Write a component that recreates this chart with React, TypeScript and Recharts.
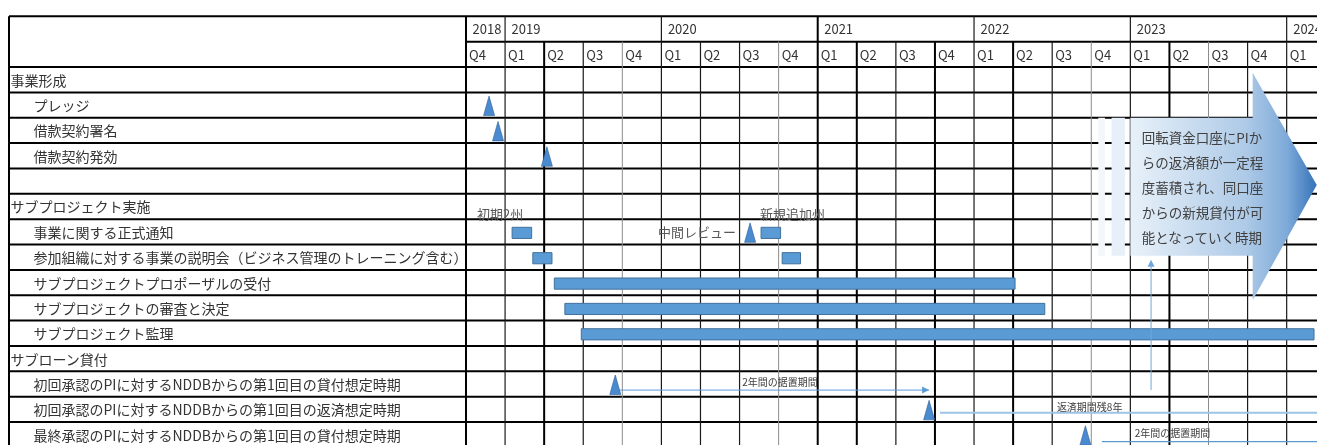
import React from 'react';
import { ComposedChart, XAxis, YAxis, ReferenceLine, ReferenceArea, Scatter } from 'recharts';

// x unit = one quarter, 0 = start of 2018 Q4. Negative x is the label column.
const YEARS = ['2018', '2019', '2020', '2021', '2022', '2023', '2024'];
const YEAR_START = [0, 1, 5, 9, 13, 17, 21];
const QUARTERS = [
  'Q4',
  'Q1', 'Q2', 'Q3', 'Q4',
  'Q1', 'Q2', 'Q3', 'Q4',
  'Q1', 'Q2', 'Q3', 'Q4',
  'Q1', 'Q2', 'Q3', 'Q4',
  'Q1', 'Q2', 'Q3', 'Q4',
  'Q1',
];

const T_PLEDGE = 'プレッジ';
const T_SIGN = '借款契約署名';
const T_EFFECT = '借款契約発効';
const T_IMPL = 'サブプロジェクト実施';
const T_NOTICE = '事業に関する正式通知';
const T_BRIEF = '参加組織に対する事業の説明会（ビジネス管理のトレーニング含む）';
const T_RECEIVE = 'サブプロジェクトプロポーザルの受付';
const T_REVIEW = 'サブプロジェクトの審査と決定';
const T_MONITOR = 'サブプロジェクト監理';
const T_LOAN1 = '初回承認のPIに対するNDDBからの第1回目の貸付想定時期';
const T_REPAY1 = '初回承認のPIに対するNDDBからの第1回目の返済想定時期';
const T_LOAN2 = '最終承認のPIに対するNDDBからの第1回目の貸付想定時期';

const TASKS = [
  { name: '事業形成', sub: false },
  { name: T_PLEDGE, sub: true },
  { name: T_SIGN, sub: true },
  { name: T_EFFECT, sub: true },
  { name: '', sub: false },
  { name: T_IMPL, sub: false },
  { name: T_NOTICE, sub: true },
  { name: T_BRIEF, sub: true },
  { name: T_RECEIVE, sub: true },
  { name: T_REVIEW, sub: true },
  { name: T_MONITOR, sub: true },
  { name: 'サブローン貸付', sub: false },
  { name: T_LOAN1, sub: true },
  { name: T_REPAY1, sub: true },
  { name: T_LOAN2, sub: true },
];

const BARS = [
  { task: T_NOTICE, start: 1.18, end: 1.68 },
  { task: T_NOTICE, start: 7.55, end: 8.05 },
  { task: T_BRIEF, start: 1.71, end: 2.2 },
  { task: T_BRIEF, start: 8.09, end: 8.56 },
  { task: T_RECEIVE, start: 2.26, end: 14.05 },
  { task: T_REVIEW, start: 2.53, end: 14.81 },
  { task: T_MONITOR, start: 2.95, end: 21.7 },
];

const MILESTONES = [
  { task: T_PLEDGE, at: 0.59 },
  { task: T_SIGN, at: 0.82 },
  { task: T_EFFECT, at: 2.07 },
  { task: T_NOTICE, at: 7.27 },
  { task: T_LOAN1, at: 3.82 },
  { task: T_REPAY1, at: 11.85 },
  { task: T_LOAN2, at: 15.85 },
];

const PERIODS = [
  { task: T_LOAN1, from: 3.92, to: 11.85, label: '2年間の据置期間', labelAt: 7.07 },
  { task: T_REPAY1, from: 12.13, to: 21.9, label: '返済期間残8年', labelAt: 15.12 },
  { task: T_LOAN2, from: 16.27, to: 21.9, label: '2年間の据置期間', labelAt: 17.11 },
];

const NOTES = [
  { task: T_IMPL, at: 0.28, text: '初期2州', anchor: 'start', dy: 0.76 },
  { task: T_IMPL, at: 7.52, text: '新規追加州', anchor: 'start', dy: 0.76 },
  { task: T_NOTICE, at: 6.91, text: '中間レビュー', anchor: 'end', dy: 0.5 },
];

const CALLOUT_TEXT = [
  '回転資金口座にPIか',
  'らの返済額が一定程',
  '度蓄積され、同口座',
  'からの新規貸付が可',
  '能となっていく時期',
];

// callout arrow in chart units (x: quarters, y: rows)
const CALLOUT = { x1: 17.0, neck: 20.13, x2: 21.77, y1: 2.23, y2: 11.2, bodyTop: 4.0, bodyBottom: 9.44, tipY: 6.65, textX: 17.29, textY: 4.75, lineStep: 0.985 };
const CALLOUT_STRIPS = [
  { x1: 16.18, x2: 16.35, fill: '#f3f7fb' },
  { x1: 16.52, x2: 16.86, fill: '#e7eff8' },
];
const UP_ARROW = { at: 17.53, from: 14.74, to: 9.6 };

const HEADER_ROWS = 2;
const CHART_W = 1309;
const CHART_H = 437;
const X_MIN = -11.694;
const X_MAX = 21.776;
const Y_MAX = 16.905;

const HEAVY_COLS = [0, 2, 9, 10, 12, 14, 18];
const LIGHT_COLS = [4, 8, 16, 19];
const PERIOD_STYLE = [
  { stroke: '#5b9bd5', width: 1, dy: 0.74 },
  { stroke: '#9dc3e6', width: 2, dy: 0.63 },
  { stroke: '#5b9bd5', width: 1.3, dy: 0.77 },
];

const FONT = '"Noto Sans CJK JP", "Noto Sans", sans-serif';
const BLUE = '#5b9bd5';

const rowOf = (task: string) => TASKS.findIndex(t => t.name === task) + HEADER_ROWS;

const colStyle = (k: number) =>
  HEAVY_COLS.includes(k)
    ? { stroke: '#000', strokeWidth: 2 }
    : LIGHT_COLS.includes(k)
      ? { stroke: '#8c8c8c', strokeWidth: 1 }
      : { stroke: '#1a1a1a', strokeWidth: 1.2 };

const rowLabelShape = (p: any) => (
  <text x={p.cx + (p.payload.sub ? 24.5 : 1.5)} y={p.cy} fontSize={14} fill="#333" fontFamily={FONT} dominantBaseline="central">
    {p.payload.text}
  </text>
);

const headerShape = (dx: number) => (p: any) => (
  <text x={p.cx + dx} y={p.cy} fontSize={13} fill="#333" fontFamily={FONT} dominantBaseline="central">
    {p.payload.text}
  </text>
);

const noteShape = (p: any) => (
  <text x={p.cx} y={p.cy} fontSize={13} fill="#595959" fontFamily={FONT} textAnchor={p.payload.anchor} dominantBaseline="central">
    {p.payload.text}
  </text>
);

const smallShape = (p: any) => (
  <text x={p.cx} y={p.cy} fontSize={10} fill="#404040" fontFamily={FONT} dominantBaseline="central">
    {p.payload.text}
  </text>
);

const triangleShape = (p: any) => (
  <path
    d={`M${p.cx},${p.cy - 9}L${p.cx + 5.5},${p.cy + 10.5}L${p.cx - 5.5},${p.cy + 10.5}Z`}
    fill="#4a8ad0"
    stroke="#2e5f94"
    strokeWidth={0.6}
  />
);

const headRight = (p: any) => (
  <path d={`M${p.cx},${p.cy}L${p.cx - 7},${p.cy - 3.5}L${p.cx - 7},${p.cy + 3.5}Z`} fill={BLUE} />
);

const headUp = (p: any) => (
  <path d={`M${p.cx},${p.cy}L${p.cx - 3.5},${p.cy + 7}L${p.cx + 3.5},${p.cy + 7}Z`} fill="#6fa8dc" />
);

const calloutShape = (p: any) => {
  const { x, y, width, height } = p;
  const C = CALLOUT;
  const px = (d: number) => x + ((d - C.x1) / (C.x2 - C.x1)) * width;
  const py = (d: number) => y + ((d - C.y1) / (C.y2 - C.y1)) * height;
  const d = [
    `M${px(C.x1)},${py(C.bodyTop)}`,
    `L${px(C.neck)},${py(C.bodyTop)}`,
    `L${px(C.neck)},${py(C.y1)}`,
    `L${px(C.x2)},${py(C.tipY)}`,
    `L${px(C.neck)},${py(C.y2)}`,
    `L${px(C.neck)},${py(C.bodyBottom)}`,
    `L${px(C.x1)},${py(C.bodyBottom)}`,
    'Z',
  ].join('');
  return (
    <g>
      <defs>
        <linearGradient id="calloutFill" x1="0" y1="0" x2="1" y2="0">
          <stop offset="0%" stopColor="#e8f1f9" />
          <stop offset="62%" stopColor="#aecae7" />
          <stop offset="84%" stopColor="#7eaad9" />
          <stop offset="100%" stopColor="#3573b9" />
        </linearGradient>
      </defs>
      <path d={d} fill="url(#calloutFill)" />
      {CALLOUT_TEXT.map((line, i) => (
        <text
          key={i}
          x={px(C.textX)}
          y={py(C.textY + i * C.lineStep)}
          fontSize={13.5}
          fill="#404040"
          fontFamily={FONT}
          dominantBaseline="central"
        >
          {line}
        </text>
      ))}
    </g>
  );
};

export default function App() {
  const rowLabels = TASKS.map((t, i) => ({ x: X_MIN, y: i + HEADER_ROWS + 0.5, text: t.name, sub: t.sub }));
  const yearLabels = YEARS.map((yr, i) => ({ x: YEAR_START[i], y: 0.5, text: yr }));
  const quarterLabels = QUARTERS.map((q, k) => ({ x: k, y: 1.5, text: q }));
  const milestones = MILESTONES.map(m => ({ x: m.at, y: rowOf(m.task) + 0.5 }));
  const notes = NOTES.map(n => ({ x: n.at, y: rowOf(n.task) + n.dy, text: n.text, anchor: n.anchor }));
  const periodLabels = PERIODS.map(p => ({ x: p.labelAt, y: rowOf(p.task) + 0.4, text: p.label }));
  const rightHeads = [{ x: PERIODS[0].to, y: rowOf(PERIODS[0].task) + PERIOD_STYLE[0].dy }];
  const upHeads = [{ x: UP_ARROW.at, y: UP_ARROW.to }];

  const hRows: number[] = [];
  for (let r = 0; r <= Math.floor(Y_MAX); r++) hRows.push(r);

  return (
    <div style={{ position: 'fixed', left: 8, top: 8 }}>
      <ComposedChart width={CHART_W} height={CHART_H} margin={{ top: 8.3, right: 0, bottom: 0, left: 1 }}>
        <XAxis type="number" dataKey="x" domain={[X_MIN, X_MAX]} hide allowDataOverflow />
        <YAxis type="number" dataKey="y" domain={[0, Y_MAX]} reversed hide allowDataOverflow />

        {hRows.map(r =>
          r === 1 ? (
            <ReferenceLine key={`h${r}`} segment={[{ x: 0, y: r }, { x: X_MAX, y: r }]} stroke="#000" strokeWidth={2} ifOverflow="visible" zIndex={-100} />
          ) : (
            <ReferenceLine key={`h${r}`} y={r} stroke="#000" strokeWidth={2} ifOverflow="visible" zIndex={-100} />
          )
        )}
        <ReferenceLine segment={[{ x: X_MIN, y: 0 }, { x: X_MIN, y: Y_MAX }]} stroke="#000" strokeWidth={2} ifOverflow="visible" zIndex={-100} />
        {QUARTERS.map((_, k) => (
          <ReferenceLine
            key={`v${k}`}
            segment={[{ x: k, y: YEAR_START.includes(k) ? 0 : 1 }, { x: k, y: Y_MAX }]}
            {...colStyle(k)}
            ifOverflow="visible"
            zIndex={-100}
          />
        ))}

        {CALLOUT_STRIPS.map((s, i) => (
          <ReferenceArea key={`s${i}`} x1={s.x1} x2={s.x2} y1={CALLOUT.bodyTop} y2={CALLOUT.bodyBottom} fill={s.fill} fillOpacity={1} stroke="none" ifOverflow="visible" zIndex={100} />
        ))}

        {BARS.map((b, i) => (
          <ReferenceArea
            key={`b${i}`}
            x1={b.start}
            x2={b.end}
            y1={rowOf(b.task) + 0.32}
            y2={rowOf(b.task) + 0.76}
            fill={BLUE}
            fillOpacity={1}
            stroke="#41719c"
            strokeWidth={1}
            ifOverflow="visible"
            zIndex={100}
          />
        ))}

        <ReferenceArea
          x1={CALLOUT.x1}
          x2={CALLOUT.x2}
          y1={CALLOUT.y1}
          y2={CALLOUT.y2}
          shape={calloutShape}
          ifOverflow="visible"
          zIndex={150}
        />

        {PERIODS.map((p, i) => {
          const y = rowOf(p.task) + PERIOD_STYLE[i].dy;
          return (
            <ReferenceLine
              key={`p${i}`}
              segment={[{ x: p.from, y }, { x: p.to, y }]}
              stroke={PERIOD_STYLE[i].stroke}
              strokeWidth={PERIOD_STYLE[i].width}
              ifOverflow="visible"
              zIndex={400}
            />
          );
        })}
        <ReferenceLine
          segment={[{ x: UP_ARROW.at, y: UP_ARROW.from }, { x: UP_ARROW.at, y: UP_ARROW.to + 0.2 }]}
          stroke="#6fa8dc"
          strokeWidth={1}
          ifOverflow="visible"
          zIndex={400}
        />

        <Scatter data={rowLabels} shape={rowLabelShape} isAnimationActive={false} />
        <Scatter data={yearLabels} shape={headerShape(6.5)} isAnimationActive={false} />
        <Scatter data={quarterLabels} shape={headerShape(3)} isAnimationActive={false} />
        <Scatter data={notes} shape={noteShape} isAnimationActive={false} />
        <Scatter data={periodLabels} shape={smallShape} isAnimationActive={false} />
        <Scatter data={milestones} shape={triangleShape} isAnimationActive={false} />
        <Scatter data={rightHeads} shape={headRight} isAnimationActive={false} />
        <Scatter data={upHeads} shape={headUp} isAnimationActive={false} />
      </ComposedChart>
    </div>
  );
}
